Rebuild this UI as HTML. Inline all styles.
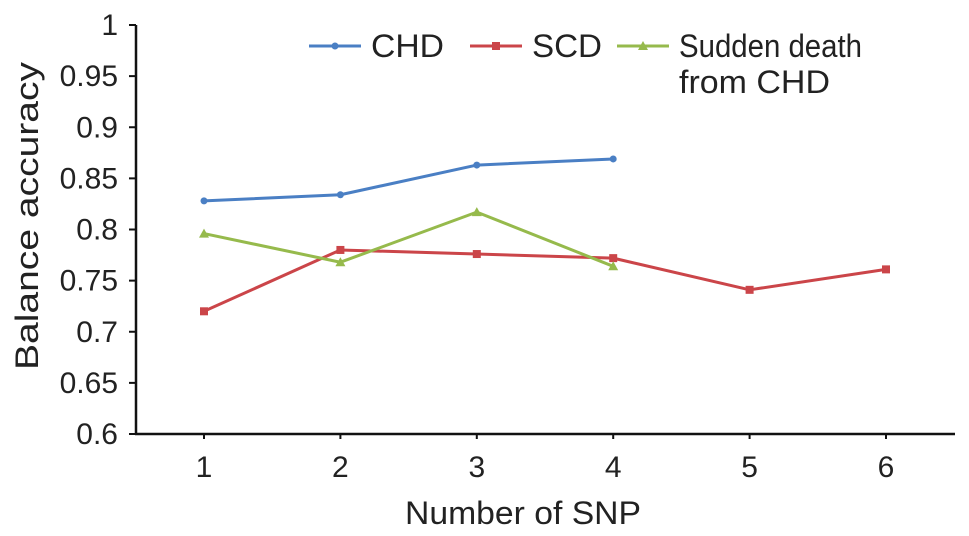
<!DOCTYPE html>
<html><head><meta charset="utf-8"><style>
html,body{margin:0;padding:0;background:#fff;}
svg{display:block;font-family:"Liberation Sans",Arial,sans-serif;}
</style></head><body>
<svg id="chart" width="969" height="536"></svg>
<script>
const xCategories = [1, 2, 3, 4, 5, 6];
const yTicks = [0.6, 0.65, 0.7, 0.75, 0.8, 0.85, 0.9, 0.95, 1];
const yTickLabels = ["0.6", "0.65", "0.7", "0.75", "0.8", "0.85", "0.9", "0.95", "1"];
const chdValues = [0.828, 0.834, 0.863, 0.869];
const scdValues = [0.720, 0.780, 0.776, 0.772, 0.741, 0.761];
const suddenValues = [0.796, 0.768, 0.817, 0.764];

const NS = "http://www.w3.org/2000/svg";
const svg = document.getElementById("chart");
const X0 = 136, X1 = 955, Y0 = 434, YT = 25;
function xScale(c) { return 204 + (c - 1) * 136.4; }
function yScale(v) { return Y0 - (v - 0.6) / 0.4 * (Y0 - YT); }
function mk(tag, attrs, parent) {
  const e = document.createElementNS(NS, tag);
  for (const k in attrs) e.setAttribute(k, attrs[k]);
  (parent || svg).appendChild(e);
  return e;
}

const axes = mk("g", {});


const yAxis = mk("line", {x1: X0, y1: YT, x2: X0, y2: Y0, stroke: "#111", "stroke-width": 2.5}, axes);


const xAxis = mk("line", {x1: X0 - 1, y1: Y0, x2: X1, y2: Y0, stroke: "#111", "stroke-width": 2.5}, axes);



yTicks.forEach((v, i) => {
  const y = yScale(v);
  mk("line", {x1: X0 - 7, y1: y, x2: X0, y2: y, stroke: "#111", "stroke-width": 2}, axes);
  const t = mk("text", {x: 118, y: y + 10, "text-anchor": "end", "font-size": 30, fill: "#222"}, axes);
  t.textContent = yTickLabels[i];
  
  
});
xCategories.forEach(c => {
  const x = xScale(c);
  mk("line", {x1: x, y1: Y0, x2: x, y2: Y0 + 5, stroke: "#111", "stroke-width": 2}, axes);
  const t = mk("text", {x: x, y: 477, "text-anchor": "middle", "font-size": 30, fill: "#222"}, axes);
  t.textContent = c;
  
  
});
const xt = mk("text", {x: 523, y: 524, "text-anchor": "middle", "font-size": 32, fill: "#222", textLength: 236, lengthAdjust: "spacingAndGlyphs"});
xt.textContent = "Number of SNP";


const yt = mk("text", {x: 38, y: 216, "text-anchor": "middle", "font-size": 32, fill: "#222", textLength: 308, lengthAdjust: "spacingAndGlyphs", transform: "rotate(-90 38 216)"});
yt.textContent = "Balance accuracy";



function marker(g, shape, x, y, color) {
  let m;
  if (shape === "square") m = mk("rect", {x: x - 4, y: y - 4, width: 8, height: 8, fill: color}, g);
  else if (shape === "tri") m = mk("polygon", {points: `${x},${y-5} ${x+5},${y+4} ${x-5},${y+4}`, fill: color}, g);
  else m = mk("circle", {cx: x, cy: y, r: 3.5, fill: color}, g);
  return m;
}
function series(name, vals, color, shape) {
  const g = mk("g", {});
  
  
  const pts = vals.map((v, i) => xScale(xCategories[i]) + "," + yScale(v)).join(" ");
  mk("polyline", {points: pts, fill: "none", stroke: color, "stroke-width": 3, "stroke-linejoin": "round"}, g);
  vals.forEach((v, i) => {
    const m = marker(g, shape, xScale(xCategories[i]), yScale(v), color);
    
    
  });
}
series("series-chd", chdValues, "#4a7fc4", "circle");
series("series-scd", scdValues, "#cb4549", "square");
series("series-sudden-death", suddenValues, "#96ba4c", "tri");

const legend = mk("g", {});


function legendEntry(name, x, color, shape, lines, lens) {
  const g = mk("g", {}, legend);
  
  
  mk("line", {x1: x, y1: 46, x2: x + 52, y2: 46, stroke: color, "stroke-width": 3}, g);
  marker(g, shape, x + 26, 46, color);
  lines.forEach((s, i) => {
    const t = mk("text", {x: x + 62, y: 57 + i * 36, "font-size": 32, fill: "#222", textLength: lens[i], lengthAdjust: "spacingAndGlyphs"}, g);
    t.textContent = s;
  });
}
legendEntry("legend-chd", 309, "#4a7fc4", "circle", ["CHD"], [73]);
legendEntry("legend-scd", 470, "#cb4549", "square", ["SCD"], [70]);
legendEntry("legend-sudden-death", 617, "#96ba4c", "tri", ["Sudden death", "from CHD"], [183, 151]);
</script>
</body></html>
